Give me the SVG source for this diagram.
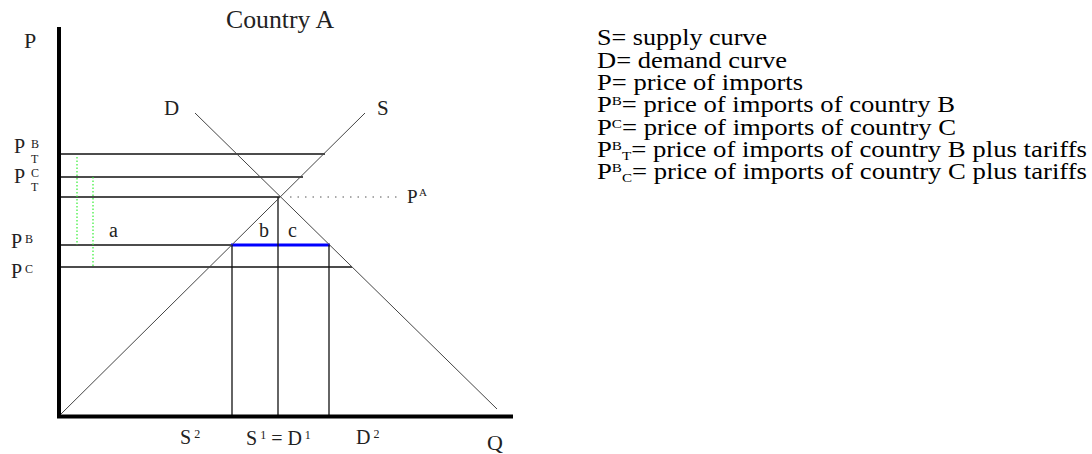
<svg xmlns="http://www.w3.org/2000/svg" width="1092" height="454" viewBox="0 0 1092 454">
<style>
.lbl{font-family:"Liberation Serif","Times New Roman",serif;fill:#222}
.leg{font-family:"Liberation Serif","Times New Roman",serif;font-size:23px;fill:#000}
.sm{font-size:13px}
.hl{stroke:#111;stroke-width:1.3;fill:none}
.cv{stroke:#444;stroke-width:1;fill:none}
.gr{stroke:#33ee33;stroke-width:1.2;stroke-dasharray:1.5 2;fill:none}
</style>
<rect width="1092" height="454" fill="#fff"/>
<g id="connectors">
  <line class="hl" x1="60" y1="154" x2="325" y2="154"/>
  <line class="hl" x1="60" y1="177" x2="303" y2="177"/>
  <line class="hl" x1="60" y1="197" x2="280" y2="197"/>
  <line class="hl" x1="60" y1="245" x2="232" y2="245"/>
  <line class="hl" x1="60" y1="267" x2="352" y2="267"/>
  <line x1="231" y1="245" x2="330" y2="245" stroke="#0000ff" stroke-width="3"/>
  <line class="hl" x1="232" y1="245" x2="232" y2="415"/>
  <line class="hl" x1="278" y1="197" x2="278" y2="415"/>
  <line class="hl" x1="329" y1="245" x2="329" y2="415"/>
  <line class="cv" x1="60" y1="415" x2="365" y2="113"/>
  <line class="cv" x1="195" y1="113" x2="497" y2="409"/>
  <line x1="290" y1="197" x2="402" y2="197" stroke="#555" stroke-width="1" stroke-dasharray="1.5 6"/>
  <line class="gr" x1="77" y1="157" x2="77" y2="245"/>
  <line class="gr" x1="93" y1="177" x2="93" y2="267"/>
  <line x1="59" y1="27" x2="59" y2="418" stroke="#000" stroke-width="4"/>
  <line x1="57" y1="416.5" x2="513" y2="416.5" stroke="#000" stroke-width="4"/>
</g>
<g id="title"><text class="lbl" x="226" y="28" font-size="25" textLength="108" lengthAdjust="spacingAndGlyphs">Country A</text></g>
<g id="axis-P"><text class="lbl" x="24" y="48" font-size="22">P</text></g>
<g id="axis-Q"><text class="lbl" x="487" y="450" font-size="22">Q</text></g>
<g id="label-D"><text class="lbl" x="164" y="115" font-size="21">D</text></g>
<g id="label-S"><text class="lbl" x="377" y="115" font-size="21">S</text></g>
<g id="label-PBT">
  <text class="lbl" x="14" y="153" font-size="20">P</text>
  <text class="lbl" x="31" y="148" font-size="12">B</text>
  <text class="lbl" x="31" y="163" font-size="12">T</text>
</g>
<g id="label-PCT">
  <text class="lbl" x="14" y="183" font-size="20">P</text>
  <text class="lbl" x="31" y="177" font-size="12">C</text>
  <text class="lbl" x="31" y="191" font-size="12">T</text>
</g>
<g id="label-PB">
  <text class="lbl" x="11" y="248" font-size="20">P</text>
  <text class="lbl" x="25" y="243" font-size="12">B</text>
</g>
<g id="label-PC">
  <text class="lbl" x="11" y="278" font-size="20">P</text>
  <text class="lbl" x="25" y="273" font-size="12">C</text>
</g>
<g id="label-PA">
  <text class="lbl" x="407" y="203" font-size="19">P</text>
  <text class="lbl" x="419" y="196" font-size="11">A</text>
</g>
<g id="label-a"><text class="lbl" x="109" y="237" font-size="20">a</text></g>
<g id="label-b"><text class="lbl" x="259" y="237" font-size="20">b</text></g>
<g id="label-c"><text class="lbl" x="288" y="237" font-size="20">c</text></g>
<g id="label-S2"><text class="lbl" x="180" y="444" font-size="20">S<tspan font-size="12" dy="-6"> 2</tspan></text></g>
<g id="label-S1D1"><text class="lbl" x="246" y="445" font-size="20">S<tspan font-size="12" dy="-6">  1</tspan><tspan dy="6">  =  D</tspan><tspan font-size="12" dy="-6">  1</tspan></text></g>
<g id="label-D2"><text class="lbl" x="356" y="444" font-size="20">D<tspan font-size="12" dy="-6"> 2</tspan></text></g>
<g id="legend">
  <text class="leg" x="597" y="45" textLength="170" lengthAdjust="spacingAndGlyphs">S= supply curve</text>
  <text class="leg" x="597" y="67.5" textLength="190" lengthAdjust="spacingAndGlyphs">D= demand curve</text>
  <text class="leg" x="597" y="90" textLength="206" lengthAdjust="spacingAndGlyphs">P= price of imports</text>
  <text class="leg" x="597" y="112" textLength="358" lengthAdjust="spacingAndGlyphs">P<tspan class="sm" dy="-7">B</tspan><tspan dy="7">= price of imports of country B</tspan></text>
  <text class="leg" x="597" y="134.5" textLength="359" lengthAdjust="spacingAndGlyphs">P<tspan class="sm" dy="-7">C</tspan><tspan dy="7">= price of imports of country C</tspan></text>
  <text class="leg" x="597" y="157" textLength="490" lengthAdjust="spacingAndGlyphs">P<tspan class="sm" dy="-7">B</tspan><tspan class="sm" dy="10">T</tspan><tspan dy="-3">= price of imports of country B plus tariffs</tspan></text>
  <text class="leg" x="597" y="179" textLength="490" lengthAdjust="spacingAndGlyphs">P<tspan class="sm" dy="-7">B</tspan><tspan class="sm" dy="10">C</tspan><tspan dy="-3">= price of imports of country C plus tariffs</tspan></text>
</g>
</svg>
